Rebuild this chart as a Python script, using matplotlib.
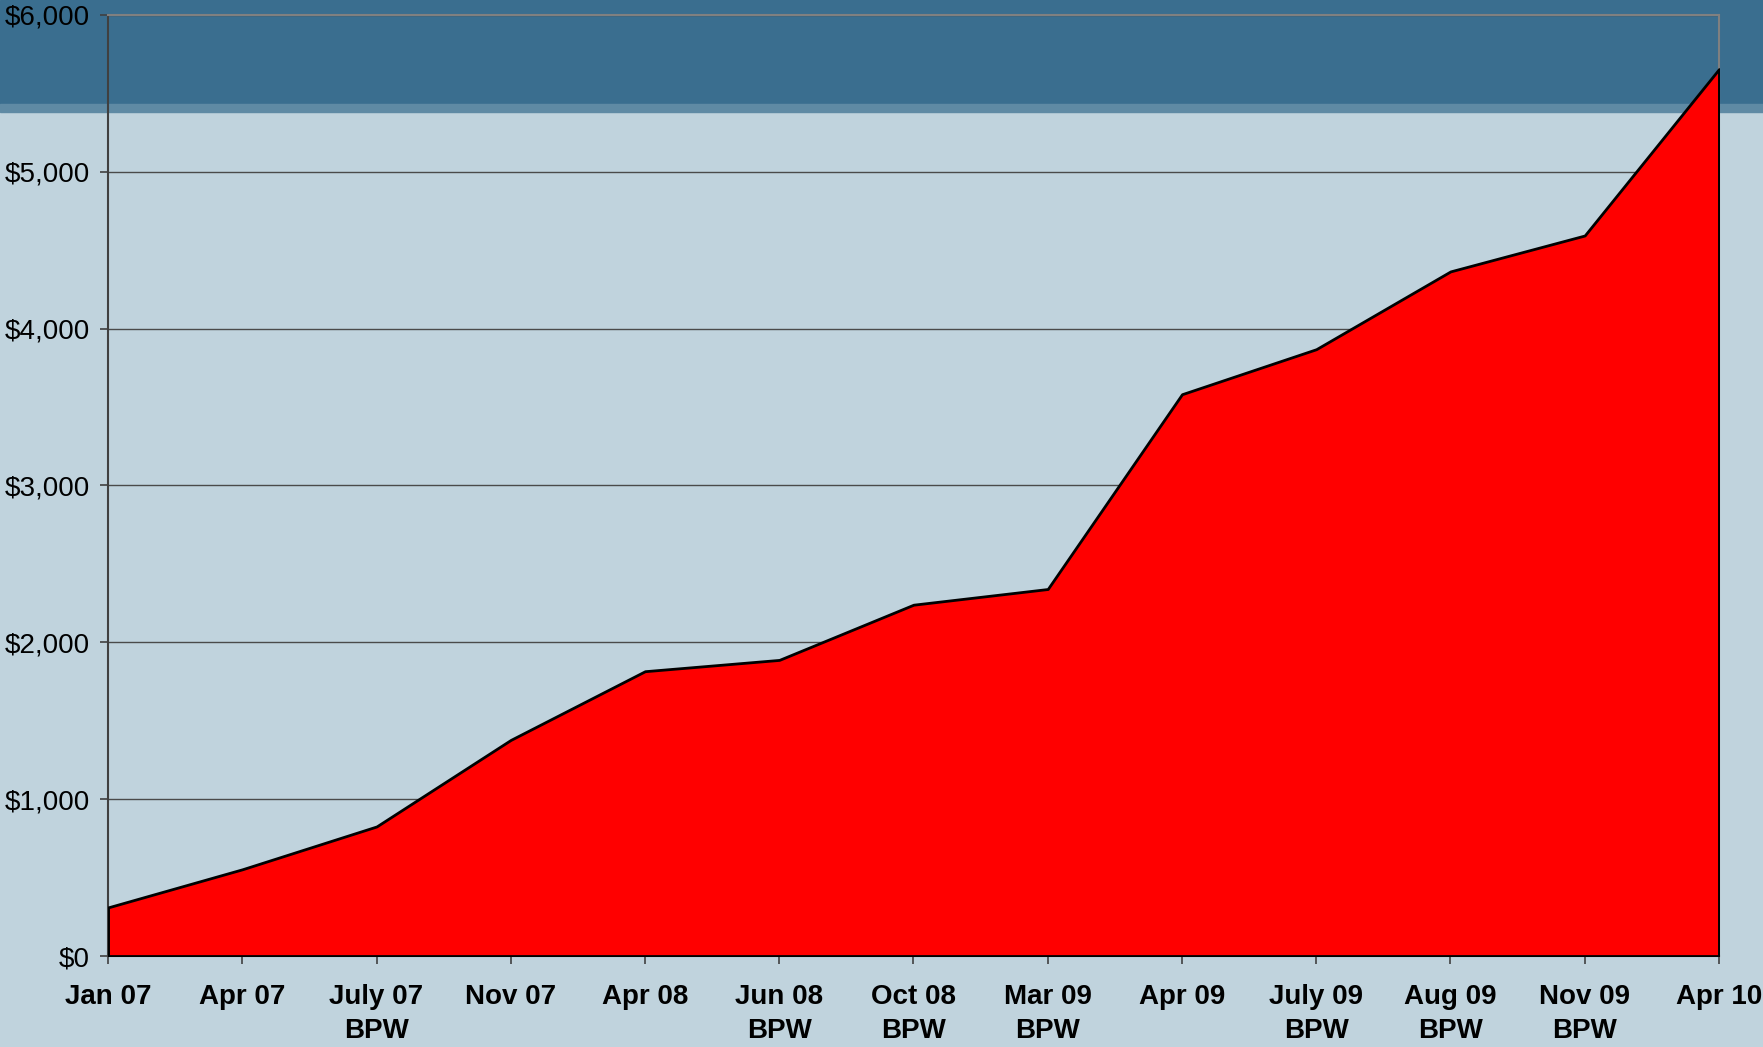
import numpy as np
from matplotlib.patches import Rectangle

if __name__ == '__main__':
    import matplotlib
    matplotlib.use('Agg')
    import matplotlib.pyplot as plt

    labels = ['Jan 07', 'Apr 07', 'July 07\nBPW', 'Nov 07', 'Apr 08', 'Jun 08\nBPW', 'Oct 08\nBPW',
              'Mar 09\nBPW', 'Apr 09', 'July 09\nBPW', 'Aug 09\nBPW', 'Nov 09\nBPW', 'Apr 10']
    value = [310, 553, 826, 1378, 1816, 1888, 2240, 2340, 3582, 3869, 4365, 4594, 5655]

    x = np.arange(0, len(value), 1)

    plt.rc('font', family=['Liberation Sans', 'DejaVu Sans'], size=20)

    fig = plt.figure(figsize=(17.63, 10.47), dpi=100, facecolor='#c0d3dd')
    # dark band at the top of the slide
    fig.add_artist(Rectangle((0, 0.9007), 1, 0.0993, transform=fig.transFigure, color='#3a6e8f', zorder=0))
    fig.add_artist(Rectangle((0, 0.893), 1, 0.0077, transform=fig.transFigure, color='#5f8aa4', zorder=0))

    axis = fig.add_axes([0.0613, 0.0869, 0.9137, 0.8988])
    axis.set_facecolor('none')
    axis.fill_between(x, value, 0, facecolor='#ff0000', edgecolor='black', linewidth=2, zorder=3)

    axis.set_xlim(0, 12)
    axis.set_ylim(0, 6000)
    axis.set_xticks(x)
    axis.set_xticklabels(labels, fontweight='bold', linespacing=1.4)
    axis.set_yticks(np.arange(0, 6001, 1000))
    axis.set_yticklabels(['${:,}'.format(v) for v in range(0, 6001, 1000)])
    axis.yaxis.grid(True, color='#4a4a4a', linewidth=1)
    axis.set_axisbelow(True)
    axis.tick_params(axis='both', direction='out', length=6, width=1.2, color='#404040', pad=7)
    axis.tick_params(axis='x', pad=14)

    axis.spines['left'].set_color('#404040')
    axis.spines['left'].set_linewidth(1.5)
    axis.spines['bottom'].set_color('#404040')
    axis.spines['bottom'].set_linewidth(1.5)
    axis.spines['top'].set_color('#808080')
    axis.spines['top'].set_linewidth(1.5)
    axis.spines['right'].set_color('#808080')
    axis.spines['right'].set_linewidth(1.5)

    fig.savefig('out.png', dpi=100, facecolor=fig.get_facecolor())
